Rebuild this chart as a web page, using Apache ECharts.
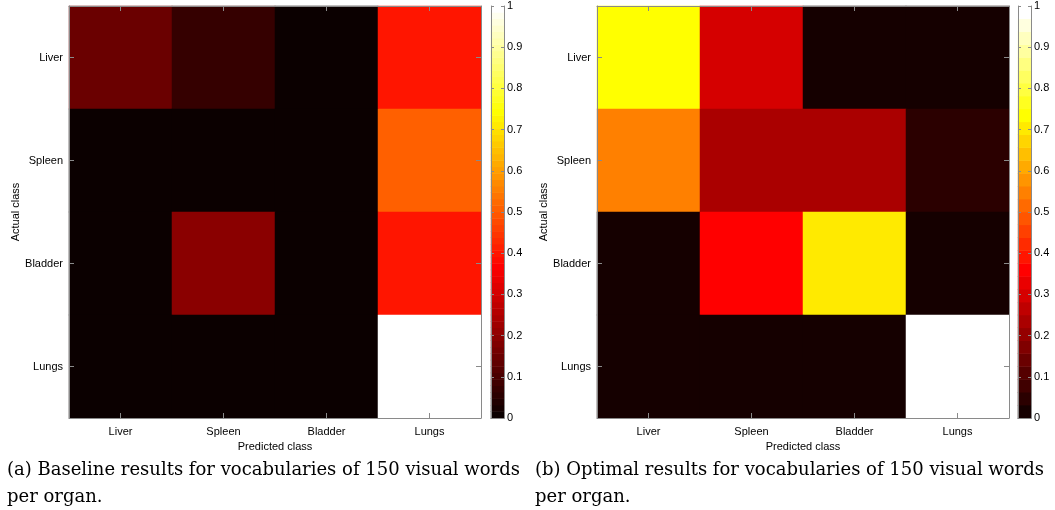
<!DOCTYPE html>
<html>
<head>
<meta charset="utf-8">
<script src="https://cdn.jsdelivr.net/npm/echarts@6/dist/echarts.min.js"></script>
<style>
  html, body { margin: 0; padding: 0; background: #ffffff; }
  #chart { width: 1055px; height: 510px; }
</style>
</head>
<body>
<div id="chart"></div>
<script>
// Organ classes (rows = actual class, columns = predicted class)
const classes = ['Liver', 'Spleen', 'Bladder', 'Lungs'];

// Confusion matrix, baseline vocabularies (150 visual words per organ)
const baselineLiver   = [0.15, 0.07, 0.00, 0.40];
const baselineSpleen  = [0.00, 0.00, 0.00, 0.50];
const baselineBladder = [0.00, 0.20, 0.00, 0.40];
const baselineLungs   = [0.00, 0.00, 0.00, 1.00];

// Confusion matrix, optimal vocabularies (150 visual words per organ)
const optimalLiver   = [0.72, 0.29, 0.00, 0.00];
const optimalSpleen  = [0.54, 0.22, 0.22, 0.04];
const optimalBladder = [0.00, 0.35, 0.69, 0.00];
const optimalLungs   = [0.00, 0.00, 0.00, 1.00];

// Colour scale range and tick step of the colour bars
const scaleMin = 0;
const scaleMax = 1;
const scaleStep = 0.1;

// Number of colour levels in each map
const baselineLevels = 64;
const optimalLevels = 32;

const captionA = ['(a) Baseline results for vocabularies of 150 visual words', 'per organ.'];
const captionB = ['(b) Optimal results for vocabularies of 150 visual words', 'per organ.'];

// ---------------------------------------------------------------------

// Black-red-yellow-white "hot" colormap with m levels
function hotColormap(m) {
  const n = Math.floor(3 * m / 8);
  const out = [];
  for (let i = 1; i <= m; i++) {
    const r = Math.min(i / n, 1);
    const g = Math.min(Math.max((i - n) / n, 0), 1);
    const b = Math.min(Math.max((i - 2 * n) / (m - 2 * n), 0), 1);
    out.push('rgb(' + Math.round(r * 255) + ',' + Math.round(g * 255) + ',' + Math.round(b * 255) + ')');
  }
  return out;
}

function piecesFor(m) {
  const colors = hotColormap(m);
  const span = scaleMax - scaleMin;
  return colors.map((c, i) => {
    const p = { gte: scaleMin + span * i / m, color: c };
    if (i === m - 1) p.lte = scaleMax; else p.lt = scaleMin + span * (i + 1) / m;
    return p;
  });
}

function matrixData(rows) {
  const data = [];
  rows.forEach((row, r) => row.forEach((v, c) => data.push([c, r, v])));
  return data;
}

function colorbarData(m) {
  const data = [];
  for (let i = 0; i < m; i++) {
    data.push([0, i, scaleMin + (scaleMax - scaleMin) * (i + 0.5) / m]);
  }
  return data;
}

const AXIS_GRAY = '#8a8a8a';
const LABEL_FONT = '"Liberation Sans", Arial, sans-serif';

const grid = [];
const xAxis = [];
const yAxis = [];
const series = [];
const visualMap = [];

function addPanel(rows, levels, plotLeft, plotWidth, barLeft) {
  const top = 6, height = 412;
  // heatmap grid
  const g = grid.length;
  grid.push({ left: plotLeft, top: top, width: plotWidth, height: height, containLabel: false });
  const xi = xAxis.length;
  const tickStyle = { show: true, inside: true, alignWithLabel: true, length: 5, lineStyle: { color: AXIS_GRAY, width: 1 } };
  const lineStyle = { show: true, lineStyle: { color: AXIS_GRAY, width: 1 } };
  xAxis.push({
    gridIndex: g, type: 'category', data: classes, position: 'bottom', z: 10,
    axisLine: lineStyle, axisTick: tickStyle, splitLine: { show: false },
    axisLabel: { color: '#000', fontSize: 11, fontFamily: LABEL_FONT, margin: 8 },
    name: 'Predicted class', nameLocation: 'middle', nameGap: 19,
    nameTextStyle: { color: '#000', fontSize: 11, fontFamily: LABEL_FONT }
  });
  xAxis.push({
    gridIndex: g, type: 'category', data: classes, position: 'top', z: 10,
    axisLine: lineStyle, axisTick: tickStyle, splitLine: { show: false },
    axisLabel: { show: false }
  });
  const yi = yAxis.length;
  yAxis.push({
    gridIndex: g, type: 'category', data: classes, inverse: true, position: 'left', z: 10,
    axisLine: lineStyle, axisTick: tickStyle, splitLine: { show: false },
    axisLabel: { color: '#000', fontSize: 11, fontFamily: LABEL_FONT, margin: 6 },
    name: 'Actual class', nameLocation: 'middle', nameGap: 48,
    nameTextStyle: { color: '#000', fontSize: 11, fontFamily: LABEL_FONT }
  });
  yAxis.push({
    gridIndex: g, type: 'category', data: classes, inverse: true, position: 'right', z: 10,
    axisLine: lineStyle, axisTick: tickStyle, splitLine: { show: false },
    axisLabel: { show: false }
  });
  const si = series.length;
  series.push({
    type: 'heatmap', xAxisIndex: xi, yAxisIndex: yi,
    data: matrixData(rows),
    itemStyle: { borderWidth: 0 },
    emphasis: { disabled: true },
    silent: true, progressive: 0
  });

  // colour bar grid
  const cg = grid.length;
  grid.push({ left: barLeft, top: top, width: 13, height: height, containLabel: false });
  const cxi = xAxis.length;
  xAxis.push({
    gridIndex: cg, type: 'category', data: [''], position: 'bottom', z: 10,
    axisLine: lineStyle, axisTick: { show: false }, axisLabel: { show: false }, splitLine: { show: false }
  });
  xAxis.push({
    gridIndex: cg, type: 'category', data: [''], position: 'top', z: 10,
    axisLine: lineStyle, axisTick: { show: false }, axisLabel: { show: false }, splitLine: { show: false }
  });
  const cyi = yAxis.length;
  const bands = [];
  for (let i = 0; i < levels; i++) bands.push(String(i));
  yAxis.push({
    gridIndex: cg, type: 'category', data: bands, position: 'left', show: false
  });
  const barTick = { show: true, inside: true, length: 3, lineStyle: { color: AXIS_GRAY, width: 1 } };
  yAxis.push({
    gridIndex: cg, type: 'value', min: scaleMin, max: scaleMax, interval: scaleStep, position: 'left', z: 10,
    axisLine: lineStyle, axisTick: barTick, axisLabel: { show: false }, splitLine: { show: false }
  });
  yAxis.push({
    gridIndex: cg, type: 'value', min: scaleMin, max: scaleMax, interval: scaleStep, position: 'right', z: 10,
    axisLine: lineStyle, axisTick: barTick, splitLine: { show: false },
    axisLabel: { color: '#000', fontSize: 11, fontFamily: LABEL_FONT, margin: 3 }
  });
  const csi = series.length;
  series.push({
    type: 'heatmap', xAxisIndex: cxi, yAxisIndex: cyi,
    data: colorbarData(levels),
    itemStyle: { borderWidth: 0 },
    emphasis: { disabled: true },
    silent: true, progressive: 0
  });

  visualMap.push({
    type: 'piecewise', show: false, dimension: 2,
    seriesIndex: [si, csi],
    pieces: piecesFor(levels)
  });
}

addPanel([baselineLiver, baselineSpleen, baselineBladder, baselineLungs], baselineLevels, 69, 412, 491);
addPanel([optimalLiver, optimalSpleen, optimalBladder, optimalLungs], optimalLevels, 597, 412, 1018);

const CAPTION_FONT = '18px "DejaVu Serif", "Liberation Serif", serif';
function captionText(x, y, text) {
  return { type: 'text', left: x, top: y, silent: true,
           style: { text: text, font: CAPTION_FONT, fill: '#000' } };
}

const chart = echarts.init(document.getElementById('chart'), null, { renderer: 'canvas' });
chart.setOption({
  animation: false,
  backgroundColor: '#ffffff',
  grid: grid,
  xAxis: xAxis,
  yAxis: yAxis,
  visualMap: visualMap,
  series: series,
  graphic: [
    captionText(7, 461, captionA[0]),
    captionText(7, 488, captionA[1]),
    captionText(535, 461, captionB[0]),
    captionText(535, 488, captionB[1])
  ]
});
</script>
</body>
</html>
